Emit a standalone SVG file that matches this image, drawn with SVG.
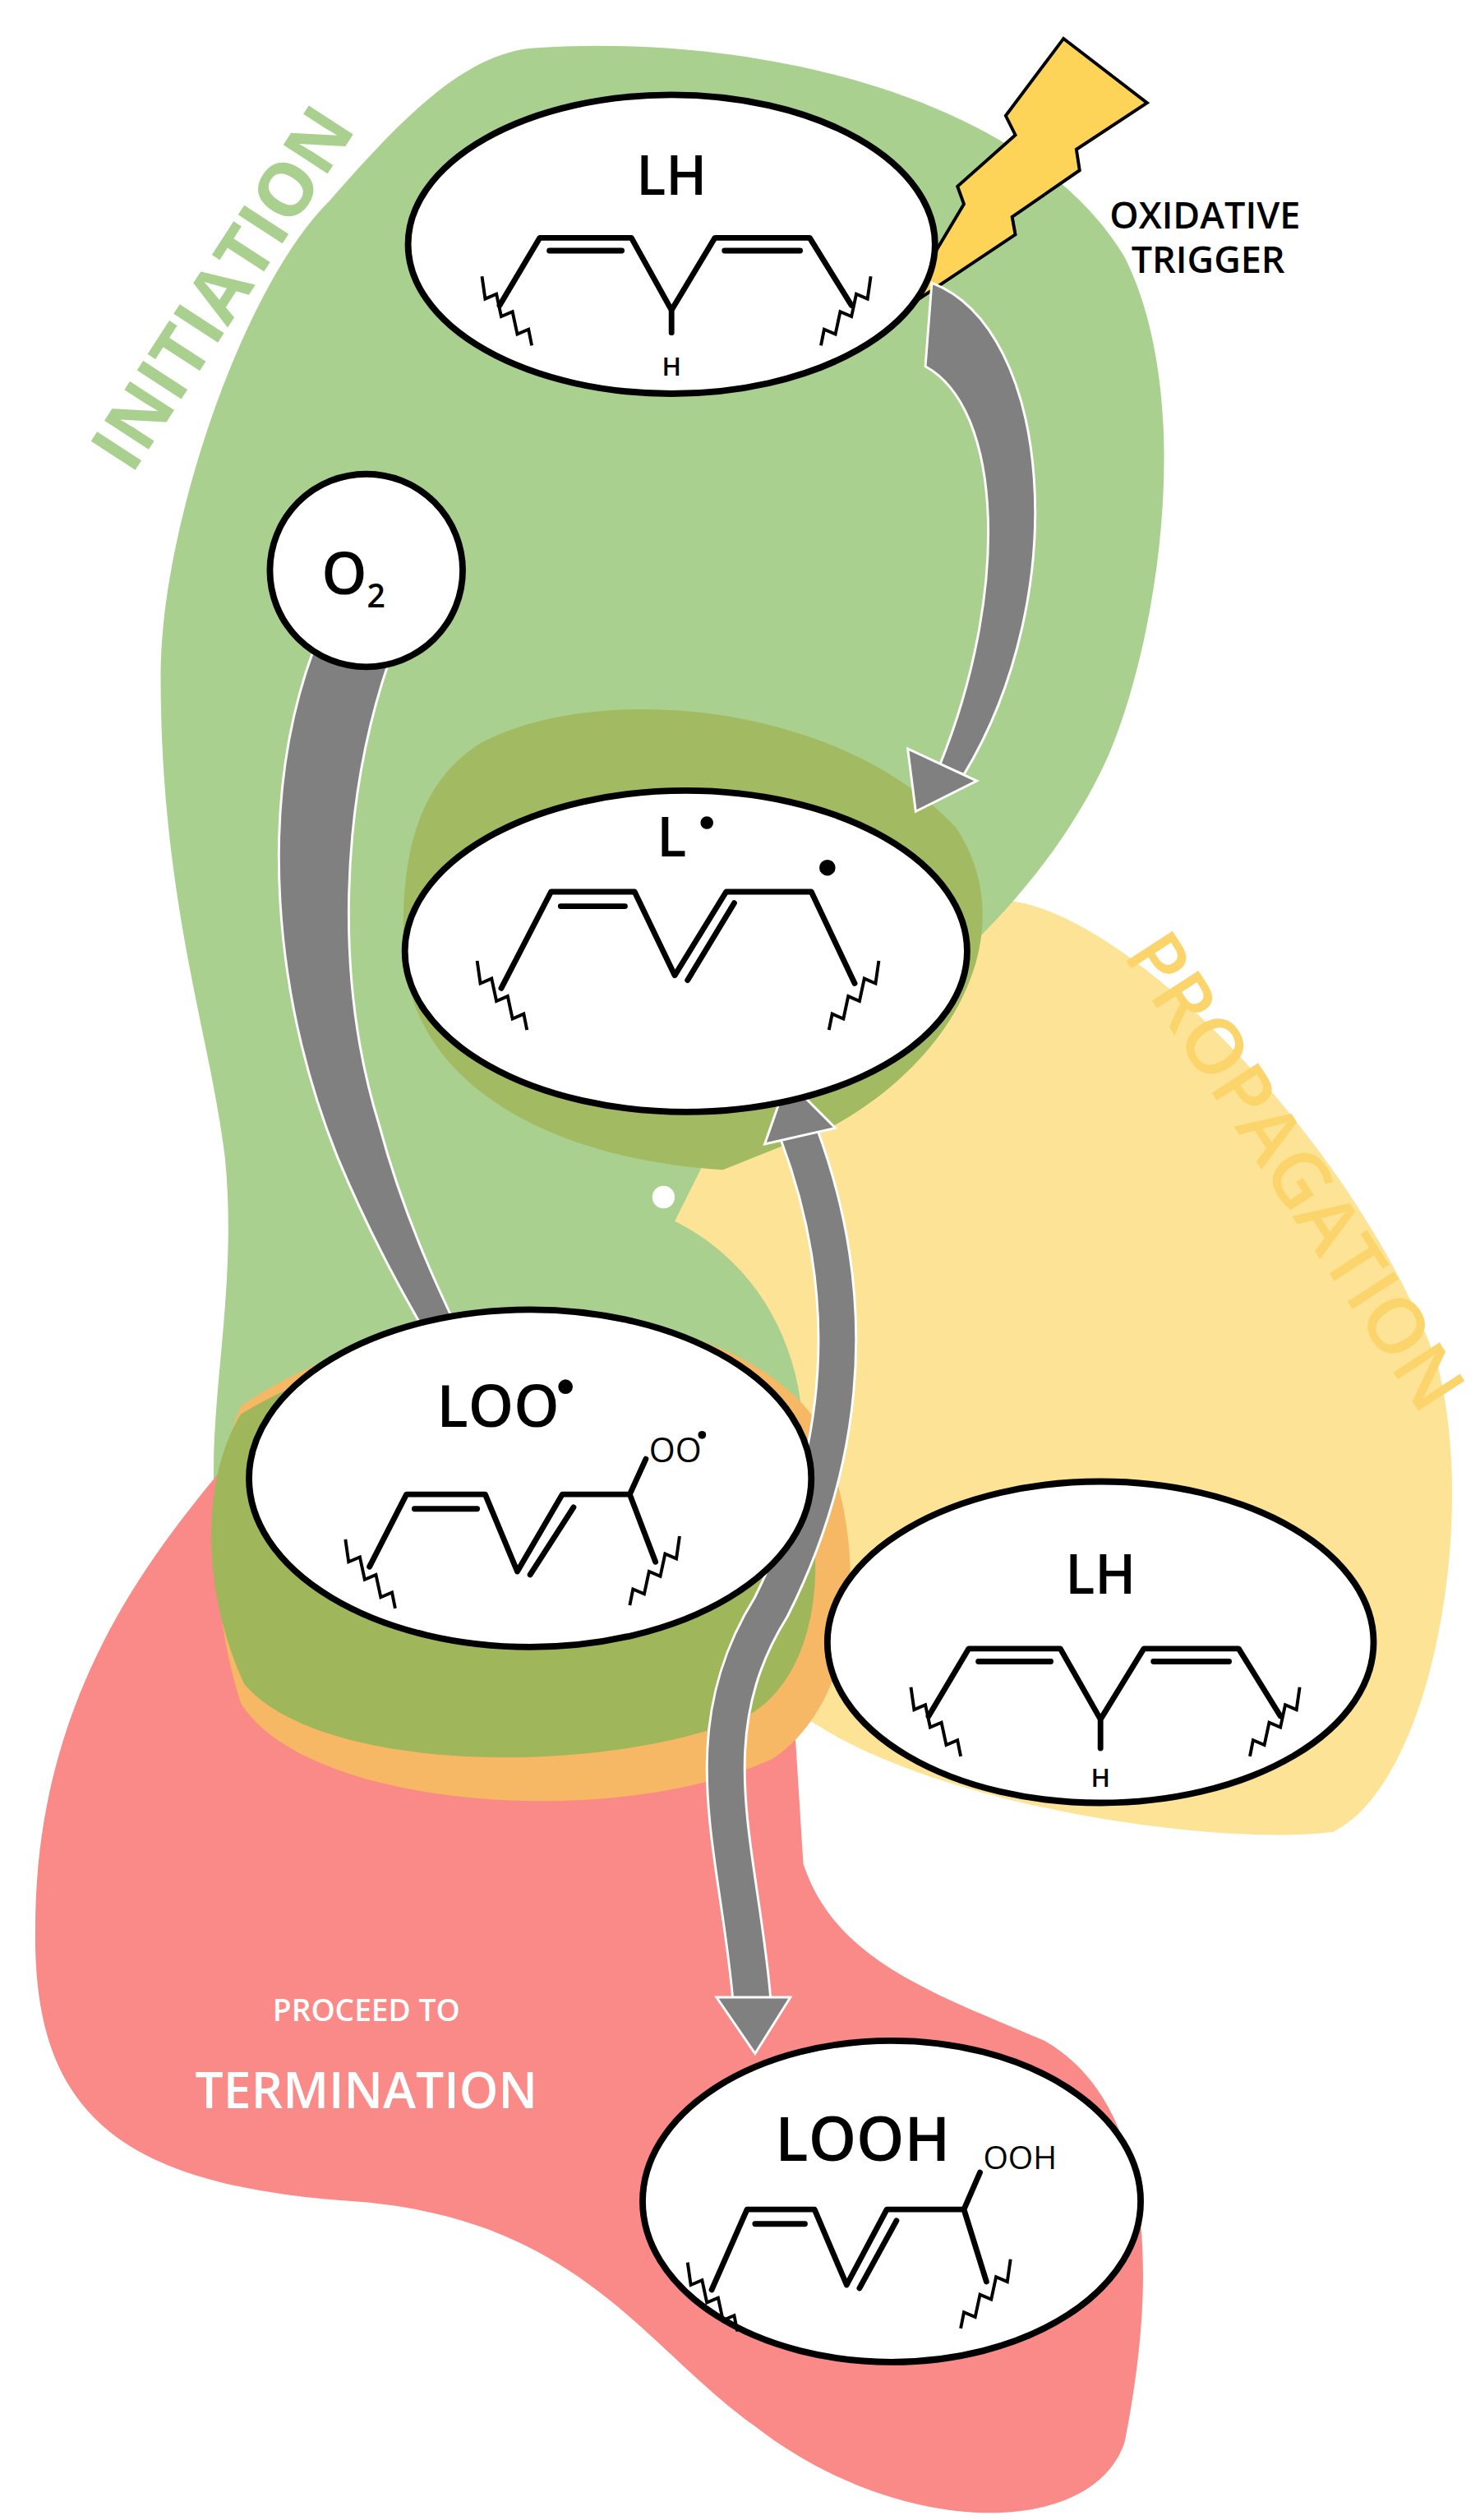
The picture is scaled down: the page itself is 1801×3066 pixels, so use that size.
<svg xmlns="http://www.w3.org/2000/svg" width="1801" height="3066" viewBox="0 0 1801 3066">
<style>
.bond{fill:none;stroke:#000;stroke-width:3.5;stroke-linecap:round;stroke-linejoin:round}
.wave{fill:none;stroke:#000;stroke-width:2}
.node{fill:#fff;stroke:#000;stroke-width:4}
.lbl{font-family:"Open Sans","Liberation Sans",sans-serif;font-weight:600;fill:#000;text-anchor:middle}
.arr{fill:#808080;stroke:#fff;stroke-width:1.5}
.arrs{fill:none;stroke:#808080;stroke-width:22}
.arrw{fill:none;stroke:#fff;stroke-width:25}
.head{fill:#808080;stroke:#fff;stroke-width:1.5}
</style>
<rect width="1801" height="3066" fill="#fff"/>
<g transform="scale(1.955)">
<g id="regions">
<path fill="#fde396" d="M400,720 C450,680 560,590 620,560 C700,560 850,720 895,850 C920,950 890,1110 830,1140 C750,1150 560,1120 490,1060 C450,1000 430,900 400,720 Z"/>
<path fill="#a9d08e" d="M330,30 C470,20 640,60 700,160 C745,250 720,400 690,470 C650,560 560,640 450,700 L420,760 C500,800 520,900 480,980 C420,1060 200,1040 140,980 C120,900 150,820 140,720 C130,640 100,560 100,420 C100,330 150,180 205,125 C245,80 285,35 330,30 Z"/>
<path fill="#f98a87" d="M150,900 C260,860 420,880 490,1000 L500,1160 C520,1220 580,1240 650,1270 C720,1310 720,1420 700,1520 C680,1580 560,1580 470,1510 C400,1460 360,1380 220,1370 C80,1360 20,1320 22,1200 C22,1050 100,960 150,900 Z"/>
<path fill="#f7b866" d="M150,875 C260,800 440,800 505,880 C545,960 535,1060 480,1095 C380,1140 190,1125 150,1060 C130,1000 130,920 150,875 Z"/>
<path fill="#9fb65a" d="M150,880 C250,820 420,805 485,880 C520,950 515,1040 465,1068 C380,1105 200,1105 152,1048 C125,990 125,920 150,880 Z"/>
<path fill="#a2ba62" d="M300,462 C370,425 520,435 595,515 C635,575 600,655 520,700 L450,728 C350,722 262,680 252,600 C247,530 262,485 300,462 Z"/>
<circle cx="413" cy="745" r="7" fill="#fff"/>
</g>
<text x="0" y="0" transform="translate(152,188) rotate(-57)" style="font-family:'Open Sans','Liberation Sans',sans-serif;font-weight:700;font-size:46px;fill:#a9d08e;text-anchor:middle">INITIATION</text>
<text x="0" y="0" transform="translate(792,738) rotate(57)" style="font-family:'Open Sans','Liberation Sans',sans-serif;font-weight:600;font-size:48px;fill:#fbd56b;text-anchor:middle">PROPAGATION</text>
<g id="trigger">
<polygon points="560,194 600,127 596,116 632,84 626,72 662,24 714,64 670,93 672,106 630,135 632,146" fill="#fdd458" stroke="#000" stroke-width="2"/>
<text class="lbl" x="750" y="142" font-size="23">OXIDATIVE</text>
<text class="lbl" x="752" y="170" font-size="23">TRIGGER</text>
</g>
<g id="connectors">
<path class="arr" d="M580,176 C655,205 668,370 600,482 L585,476 C628,370 625,255 576,228 Z"/>
<polygon class="head" points="570,505 608,486 565,466"/>
<path class="arr" d="M195,405 C160,500 170,620 210,720 C235,780 262,825 280,855 L296,850 C276,810 252,760 236,700 C208,610 212,500 242,412 Z"/>
<polygon class="head" points="295,885 308,846 264,860"/>
<path class="arrw" d="M468,1245 C460,1150 430,1080 480,1000 C520,920 540,820 497,705"/>
<path class="arrs" d="M468,1245 C460,1150 430,1080 480,1000 C520,920 540,820 497,705"/>
<polygon class="head" points="490,672 520,702 476,712"/>
<polygon class="head" points="470,1278 492,1243 446,1243"/>
</g>
<g id="LH1">
<ellipse class="node" cx="418" cy="152" rx="164" ry="93"/>
<text class="lbl" x="418" y="121" font-size="34">LH</text>
<path class="bond" d="M311,190 L336,148 L393,148 L418,193 L445,148 L504,148 L530,190 M342,156 L387,156 M451,156 L498,156 M418,193 L418,207"/>
<path class="wave" d="M300,172 l2,14 l7,-3 l3,14 l7,-3 l3,14 l7,-3 l2,10"/>
<path class="wave" d="M542,172 l-2,14 l-7,-3 l-3,14 l-7,-3 l-3,14 l-7,-3 l-2,10"/>
<text class="lbl" x="418" y="234" font-size="16">H</text>
</g>
<g id="O2">
<circle class="node" cx="228" cy="355" r="60"/>
<text class="lbl" x="220" y="370" font-size="36">O<tspan font-size="20" dy="8">2</tspan></text>
</g>
<g id="Lrad">
<ellipse class="node" cx="427" cy="592" rx="175" ry="100"/>
<text class="lbl" x="418" y="533" font-size="34">L</text>
<circle cx="440" cy="512" r="4"/>
<circle cx="515" cy="540" r="5"/>
<path class="bond" d="M312,615 L343,555 L395,555 L420,607 L452,555 L505,555 L532,612 M349,564 L389,564 M428,610 L457,562"/>
<path class="wave" d="M297,598 l2,14 l7,-3 l3,14 l7,-3 l3,14 l7,-3 l2,10"/>
<path class="wave" d="M547,598 l-2,14 l-7,-3 l-3,14 l-7,-3 l-3,14 l-7,-3 l-2,10"/>
</g>
<g id="LOOrad">
<ellipse class="node" cx="330" cy="920" rx="175" ry="105"/>
<text class="lbl" x="310" y="888" font-size="36">LOO</text>
<circle cx="352" cy="863" r="4.5"/>
<path class="bond" d="M230,975 L253,930 L302,930 L322,978 L350,930 L392,930 L408,972 M258,939 L297,939 M330,980 L357,938 M392,930 L402,908"/>
<text x="404" y="910" style="font-family:'Open Sans','Liberation Sans',sans-serif;font-size:21px">OO</text>
<circle cx="437" cy="893" r="2.5"/>
<path class="wave" d="M215,958 l2,14 l7,-3 l3,14 l7,-3 l3,14 l7,-3 l2,10"/>
<path class="wave" d="M423,956 l-2,14 l-7,-3 l-3,14 l-7,-3 l-3,14 l-7,-3 l-2,10"/>
</g>
<g id="LH2">
<ellipse class="node" cx="685" cy="1022" rx="170" ry="100"/>
<text class="lbl" x="685" y="992" font-size="34">LH</text>
<path class="bond" d="M578,1068 L603,1026 L660,1026 L685,1070 L712,1026 L771,1026 L797,1068 M609,1034 L654,1034 M718,1034 L765,1034 M685,1070 L685,1088"/>
<path class="wave" d="M567,1050 l2,14 l7,-3 l3,14 l7,-3 l3,14 l7,-3 l2,10"/>
<path class="wave" d="M809,1050 l-2,14 l-7,-3 l-3,14 l-7,-3 l-3,14 l-7,-3 l-2,10"/>
<text class="lbl" x="685" y="1112" font-size="16">H</text>
</g>
<g id="LOOH">
<ellipse class="node" cx="555" cy="1370" rx="155" ry="100"/>
<text class="lbl" x="537" y="1345" font-size="38">LOOH</text>
<path class="bond" d="M443,1425 L465,1375 L507,1375 L527,1422 L552,1375 L600,1375 L614,1420 M470,1384 L501,1384 M535,1424 L558,1382 M600,1375 L610,1352"/>
<text x="612" y="1350" style="font-family:'Open Sans','Liberation Sans',sans-serif;font-size:20px">OOH</text>
<path class="wave" d="M428,1408 l2,14 l7,-3 l3,14 l7,-3 l3,14 l7,-3 l2,10"/>
<path class="wave" d="M629,1406 l-2,14 l-7,-3 l-3,14 l-7,-3 l-3,14 l-7,-3 l-2,10"/>
</g>
<text class="lbl" x="228" y="1258" font-size="19" style="fill:#fff">PROCEED TO</text>
<text class="lbl" x="228" y="1312" font-size="31" style="fill:#fff">TERMINATION</text>
</g>
</svg>
